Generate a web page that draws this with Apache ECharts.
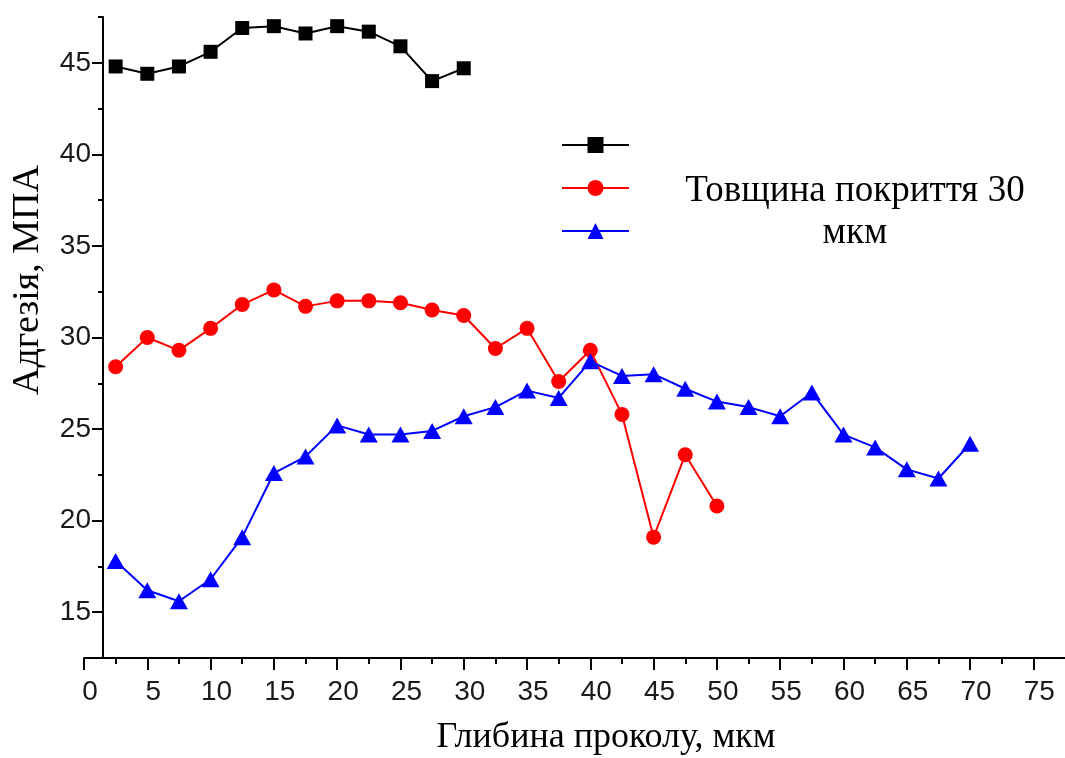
<!DOCTYPE html>
<html>
<head>
<meta charset="utf-8">
<script src="https://cdn.jsdelivr.net/npm/echarts@6/dist/echarts.min.js"></script>
<style>
    html, body { margin: 0; padding: 0; background: #fff; }
    #main { width: 1065px; height: 758px; }
</style>
</head>
<body>
<div id="main"></div>
<script>
// глибина проколу, мкм
var depth = [2.5, 5, 7.5, 10, 12.5, 15, 17.5, 20, 22.5, 25, 27.5, 30, 32.5, 35,
    37.5, 40, 42.5, 45, 47.5, 50, 52.5, 55, 57.5, 60, 62.5, 65, 67.5, 70];
// адгезія, МПа
var blackVals = [44.8, 44.4, 44.8, 45.6, 46.9, 47.0, 46.6, 47.0, 46.7, 45.9, 44.0, 44.7];
var redVals = [28.4, 30.0, 29.3, 30.5, 31.8, 32.6, 31.7, 32.0, 32.0, 31.9, 31.5, 31.2,
    29.4, 30.5, 27.6, 29.3, 25.8, 19.1, 23.6, 20.8];
var blueVals = [17.8, 16.2, 15.6, 16.8, 19.1, 22.6, 23.5, 25.2, 24.7, 24.7, 24.9, 25.7,
    26.2, 27.1, 26.7, 28.7, 27.9, 28.0, 27.2, 26.5, 26.2, 25.7, 27.0, 24.7, 24.0, 22.8, 22.3, 24.2];
// підписи та поділки осей
var xTicks = [0, 5, 10, 15, 20, 25, 30, 35, 40, 45, 50, 55, 60, 65, 70, 75];
var xMinor = [2.5, 7.5, 12.5, 17.5, 22.5, 27.5, 32.5, 37.5, 42.5, 47.5, 52.5, 57.5, 62.5, 67.5, 72.5];
var yTicks = [15, 20, 25, 30, 35, 40, 45];
var yMinor = [17.5, 22.5, 27.5, 32.5, 37.5, 42.5, 47.5];

function pairs(vals) {
    return vals.map(function (v, i) { return [depth[i], v]; });
}

var myChart = echarts.init(document.getElementById('main'));
var labelFont = { fontFamily: 'Liberation Sans', fontSize: 28, color: '#1a1a1a' };
var option = {
    animation: false,
    backgroundColor: '#fff',
    grid: { left: 84, right: 0, top: 17, bottom: 100, outerBoundsMode: 'none' },
    legend: {
        orient: 'vertical',
        left: 561,
        top: 135,
        padding: 0,
        itemWidth: 67,
        itemHeight: 20,
        itemGap: 25,
        selectedMode: false,
        formatter: function () { return ''; },
        textStyle: { fontSize: 10 },
        data: ['s1', 's2', 's3']
    },
    xAxis: [{
        type: 'value', min: 0, max: 77.5, interval: 5,
        axisLine: { lineStyle: { color: '#000', width: 2 } },
        axisTick: { customValues: xTicks, length: 12, lineStyle: { color: '#000', width: 2 } },
        axisLabel: Object.assign({ customValues: xTicks, margin: 20, padding: [0, 0, 0, 12] }, labelFont),
        splitLine: { show: false }
    }, {
        type: 'value', min: 0, max: 77.5, position: 'bottom',
        axisLine: { show: false },
        axisTick: { customValues: xMinor, length: 6, lineStyle: { color: '#000', width: 2 } },
        axisLabel: { show: false },
        splitLine: { show: false }
    }],
    yAxis: [{
        type: 'value', min: 12.5, max: 47.5, offset: -19,
        axisLine: { show: true, lineStyle: { color: '#000', width: 2 } },
        axisTick: { show: true, customValues: yTicks, length: 11, lineStyle: { color: '#000', width: 2 } },
        axisLabel: Object.assign({ customValues: yTicks, margin: 12 }, labelFont),
        splitLine: { show: false }
    }, {
        type: 'value', min: 12.5, max: 47.5, position: 'left', offset: -19,
        axisLine: { show: false },
        axisTick: { show: true, customValues: yMinor, length: 5, lineStyle: { color: '#000', width: 2 } },
        axisLabel: { show: false },
        splitLine: { show: false }
    }],
    series: [{
        name: 's1', type: 'line', data: pairs(blackVals),
        symbol: 'rect', symbolSize: 14,
        itemStyle: { color: '#000' }, lineStyle: { color: '#000', width: 2 }
    }, {
        name: 's2', type: 'line', data: pairs(redVals),
        symbol: 'circle', symbolSize: 15,
        itemStyle: { color: '#ff0000' }, lineStyle: { color: '#ff0000', width: 2 }
    }, {
        name: 's3', type: 'line', data: pairs(blueVals),
        symbol: 'triangle', symbolSize: [18, 16],
        itemStyle: { color: '#0000ff' }, lineStyle: { color: '#0000ff', width: 2 }
    }],
    graphic: [{
        type: 'text', x: 28, y: 280, rotation: Math.PI / 2,
        style: { text: 'Адгезія, МПА', font: '38px "Liberation Serif"', fill: '#000', align: 'center', verticalAlign: 'middle' }
    }, {
        type: 'text', x: 606, y: 738,
        style: { text: 'Глибина проколу, мкм', font: '36px "Liberation Serif"', fill: '#000', align: 'center', verticalAlign: 'middle' }
    }, {
        type: 'text', x: 855, y: 212,
        style: { text: 'Товщина покриття 30\nмкм', font: '37px "Liberation Serif"', lineHeight: 42, fill: '#000', align: 'center', verticalAlign: 'middle' }
    }]
};
myChart.setOption(option);
</script>
</body>
</html>
